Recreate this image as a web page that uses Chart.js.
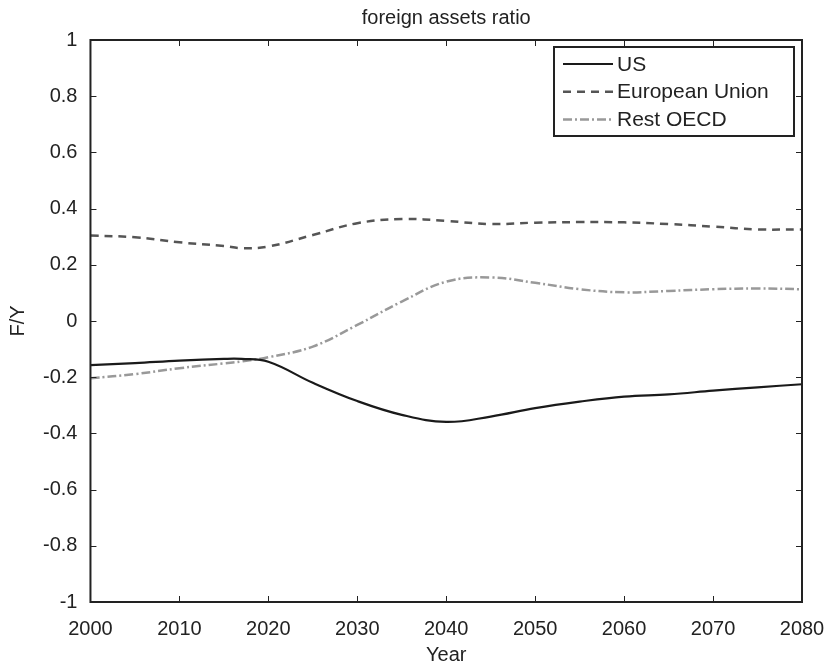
<!DOCTYPE html>
<html lang="en">
<head>
  <meta charset="UTF-8" />
  <title>foreign assets ratio</title>
  <script src="https://cdn.jsdelivr.net/npm/chart.js"></script>
  <style>
    body {
      margin: 0;
      background-color: #fff;
      font-family: "Liberation Sans", Arial, sans-serif;
    }

    #wrap {
      width: 826px;
      height: 667px;
    }
  </style>
</head>
<body>
  <div id="wrap"><canvas id="myChart"></canvas></div>

  <script>
    const years = [2000, 2005, 2010, 2015, 2017, 2020, 2025, 2030, 2035, 2040, 2045, 2050, 2055, 2060, 2065, 2070, 2075, 2080];
    const usData = [-0.157, -0.150, -0.141, -0.135, -0.135, -0.145, -0.220, -0.285, -0.334, -0.359, -0.340, -0.310, -0.287, -0.269, -0.261, -0.248, -0.236, -0.225];
    const euData = [0.304, 0.298, 0.280, 0.267, 0.259, 0.265, 0.306, 0.348, 0.363, 0.356, 0.345, 0.350, 0.352, 0.351, 0.345, 0.336, 0.326, 0.326];
    const oecdData = [-0.204, -0.189, -0.168, -0.151, -0.144, -0.129, -0.091, -0.014, 0.069, 0.140, 0.155, 0.136, 0.113, 0.102, 0.107, 0.113, 0.116, 0.113];
    const xTicks = [2000, 2010, 2020, 2030, 2040, 2050, 2060, 2070, 2080];
    const yTicks = [-1, -0.8, -0.6, -0.4, -0.2, 0, 0.2, 0.4, 0.6, 0.8, 1];

    const toPoints = arr => arr.map((v, i) => ({ x: years[i], y: v }));
    const axisColor = '#222';
    const fontFamily = '"Liberation Sans", Arial, sans-serif';

    // box round the plot, inward tick marks, title and legend box
    const framePlugin = {
      id: 'frame',
      afterDatasetsDraw(chart) {
        const { ctx, chartArea: a, scales } = chart;
        ctx.save();
        ctx.strokeStyle = axisColor;
        ctx.lineWidth = 2;
        ctx.strokeRect(a.left, a.top, a.right - a.left, a.bottom - a.top);

        ctx.lineWidth = 1;
        ctx.beginPath();
        xTicks.forEach(t => {
          const px = Math.round(scales.x.getPixelForValue(t)) + 0.5;
          ctx.moveTo(px, a.bottom); ctx.lineTo(px, a.bottom - 6);
          ctx.moveTo(px, a.top); ctx.lineTo(px, a.top + 6);
        });
        yTicks.forEach(t => {
          const py = Math.round(scales.y.getPixelForValue(t)) + 0.5;
          ctx.moveTo(a.left, py); ctx.lineTo(a.left + 6, py);
          ctx.moveTo(a.right, py); ctx.lineTo(a.right - 6, py);
        });
        ctx.stroke();

        ctx.fillStyle = axisColor;
        ctx.font = '20px ' + fontFamily;
        ctx.textAlign = 'center';
        ctx.textBaseline = 'middle';
        ctx.fillText('foreign assets ratio', (a.left + a.right) / 2, 18);

        // legend
        const bx = 554, by = 47, bw = 240, bh = 89;
        ctx.fillStyle = '#fff';
        ctx.fillRect(bx, by, bw, bh);
        ctx.lineWidth = 2;
        ctx.strokeStyle = axisColor;
        ctx.strokeRect(bx, by, bw, bh);
        ctx.font = '21px ' + fontFamily;
        ctx.textAlign = 'left';
        chart.data.datasets.forEach((ds, i) => {
          const y = 64 + i * 27.7;
          ctx.strokeStyle = ds.borderColor;
          ctx.lineWidth = ds.borderWidth;
          ctx.setLineDash(ds.borderDash || []);
          ctx.beginPath();
          ctx.moveTo(563, y); ctx.lineTo(613, y);
          ctx.stroke();
          ctx.setLineDash([]);
          ctx.fillStyle = axisColor;
          ctx.fillText(ds.label, 617, y + 1);
        });
        ctx.restore();
      }
    };

    new Chart(document.getElementById('myChart'), {
      type: 'line',
      data: {
        datasets: [
          {
            label: 'US',
            data: toPoints(usData),
            borderColor: '#1a1a1a',
            borderWidth: 2.2,
            tension: 0.4,
            pointRadius: 0
          },
          {
            label: 'European Union',
            data: toPoints(euData),
            borderColor: '#555',
            borderWidth: 2.5,
            borderDash: [8, 6],
            tension: 0.4,
            pointRadius: 0
          },
          {
            label: 'Rest OECD',
            data: toPoints(oecdData),
            borderColor: '#999',
            borderWidth: 2.5,
            borderDash: [9, 3, 2, 3],
            tension: 0.4,
            pointRadius: 0
          }
        ]
      },
      options: {
        responsive: true,
        maintainAspectRatio: false,
        animation: false,
        layout: {
          padding: { left: 2, right: 24, top: 40, bottom: 0 }
        },
        scales: {
          x: {
            type: 'linear',
            min: 2000,
            max: 2080,
            afterBuildTicks: s => { s.ticks = xTicks.map(v => ({ value: v })); },
            afterFit: s => { s.paddingRight = 0; },
            ticks: {
              color: axisColor,
              font: { size: 20, family: fontFamily },
              maxRotation: 0,
              padding: 7,
              callback: v => String(v)
            },
            grid: { display: false },
            border: { display: false },
            title: {
              display: true,
              text: 'Year',
              color: axisColor,
              font: { size: 20, family: fontFamily },
              padding: { top: -5, bottom: 0 }
            }
          },
          y: {
            min: -1,
            max: 1,
            afterBuildTicks: s => { s.ticks = yTicks.map(v => ({ value: v })); },
            ticks: {
              color: axisColor,
              font: { size: 20, family: fontFamily },
              padding: 5,
              callback: v => String(Math.round(v * 10) / 10)
            },
            grid: { display: false },
            border: { display: false },
            title: {
              display: true,
              text: 'F/Y',
              color: axisColor,
              font: { size: 20, family: fontFamily },
              padding: { top: 4, bottom: 8 }
            }
          }
        },
        plugins: {
          legend: { display: false },
          tooltip: { enabled: false }
        }
      },
      plugins: [framePlugin]
    });
  </script>
</body>
</html>
